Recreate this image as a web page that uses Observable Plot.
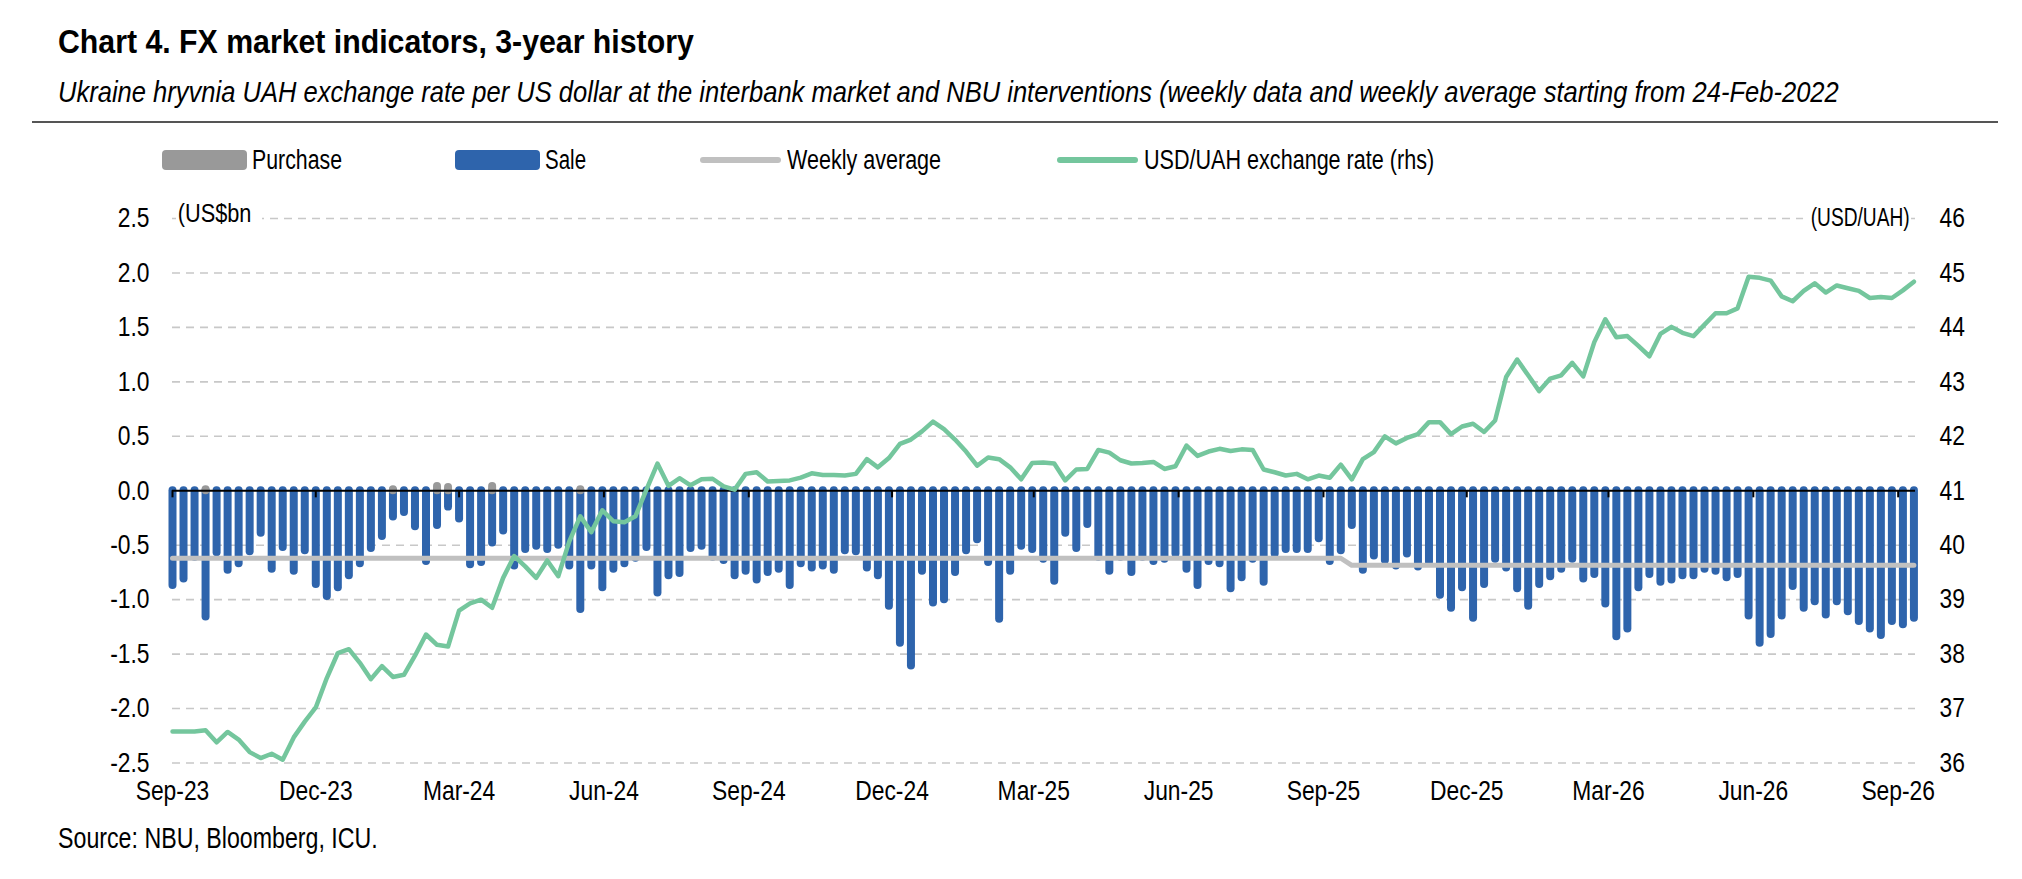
<!DOCTYPE html>
<html>
<head>
<meta charset="utf-8">
<script src="https://cdn.jsdelivr.net/npm/d3@7"></script>
<script src="https://cdn.jsdelivr.net/npm/@observablehq/plot@0.6"></script>
<style>
  html, body { margin: 0; padding: 0; background: #fff; }
  #wrap { position: relative; width: 2022px; height: 879px; overflow: hidden; background: #fff;
          font-family: "Liberation Sans", Arial, sans-serif; color: #000; }
  .abs { position: absolute; white-space: nowrap; line-height: 1; }
  #title { left: 58px; top: 26px; font-size: 32.5px; font-weight: bold; }
  #subtitle { left: 58px; top: 76.5px; font-size: 30px; font-style: italic; }
  #rule { left: 32px; top: 121px; width: 1966px; height: 2px; background: #555; }
  .legtext { font-size: 27px; top: 146.5px; }
  .sw { position: absolute; border-radius: 4px; }
  .ln { position: absolute; height: 6px; border-radius: 3px; }
  #source { left: 58px; top: 823.5px; font-size: 29px; }
  .unit { font-size: 25px; background: #fff; }
  #chart { position: absolute; left: 0; top: 180px; }
</style>
</head>
<body>
<div id="wrap">
  <div class="abs" id="title">Chart 4. FX market indicators, 3-year history</div>
  <div class="abs" id="subtitle">Ukraine hryvnia UAH exchange rate per US dollar at the interbank market and NBU interventions (weekly data and weekly average starting from 24-Feb-2022</div>
  <div class="abs" id="rule"></div>
  <div id="legend"></div>
  <div id="chart"></div>
  <div class="abs unit" id="unitL" style="left:176px; top:200.8px; padding:0 12px 0 2px;">(US$bn</div>
  <div class="abs unit" id="unitR" style="right:111px; top:204.8px; padding:0 2px 0 10px;">(USD/UAH)</div>
  <div class="abs" id="source">Source: NBU, Bloomberg, ICU.</div>
</div>
<script>
// ---------------- DATA ----------------
// weekly observations, Fridays from 1-Sep-2023 to 11-Sep-2026
const firstWeek = "2023-09-01";
const lastWeek = "2026-09-11";

// NBU sales, US$bn (negative)
const sale = [
  -0.87, -0.81, -0.61, -1.16, -0.57, -0.73, -0.67, -0.56, -0.39, -0.72,
  -0.52, -0.74, -0.55, -0.86, -0.97, -0.89, -0.78, -0.67, -0.53, -0.42,
  -0.24, -0.20, -0.33, -0.65, -0.32, -0.15, -0.26, -0.68, -0.66, -0.48,
  -0.37, -0.69, -0.54, -0.51, -0.54, -0.50, -0.69, -1.09, -0.69, -0.89,
  -0.72, -0.67, -0.62, -0.52, -0.94, -0.78, -0.76, -0.53, -0.51, -0.61,
  -0.64, -0.78, -0.74, -0.82, -0.75, -0.72, -0.87, -0.67, -0.71, -0.69,
  -0.73, -0.55, -0.56, -0.71, -0.78, -1.06, -1.40, -1.61, -0.74, -1.03,
  -1.00, -0.75, -0.55, -0.45, -0.66, -1.18, -0.74, -0.51, -0.54, -0.63,
  -0.83, -0.39, -0.53, -0.31, -0.61, -0.74, -0.61, -0.75, -0.61, -0.65,
  -0.63, -0.58, -0.72, -0.87, -0.65, -0.67, -0.90, -0.80, -0.63, -0.84,
  -0.58, -0.54, -0.54, -0.54, -0.44, -0.65, -0.55, -0.32, -0.73, -0.60,
  -0.64, -0.69, -0.58, -0.70, -0.66, -0.96, -1.08, -0.89, -1.17, -0.86,
  -0.63, -0.71, -0.90, -1.06, -0.86, -0.79, -0.72, -0.63, -0.81, -0.77,
  -1.04, -1.34, -1.27, -0.89, -0.77, -0.84, -0.82, -0.78, -0.78, -0.72,
  -0.74, -0.80, -0.77, -1.15, -1.40, -1.32, -1.15, -0.88, -1.08, -1.02,
  -1.14, -1.02, -1.11, -1.20, -1.27, -1.33, -1.20, -1.23, -1.17
];

// NBU purchases, US$bn (only a few small weeks)
const purchaseWeek = [4, 21, 25, 26, 30, 38];
const purchaseValue = [0.01, 0.01, 0.04, 0.03, 0.04, 0.01];

// weekly average of interventions, US$bn
const avgDates = ["2023-09-01", "2025-09-12", "2025-09-19", "2026-09-11"];
const avgValues = [-0.62, -0.62, -0.685, -0.685];

// USD/UAH exchange rate (rhs)
const rate = [
  36.58, 36.58, 36.58, 36.60, 36.38, 36.57, 36.43, 36.20, 36.09, 36.17,
  36.06, 36.47, 36.76, 37.02, 37.56, 38.02, 38.09, 37.84, 37.54, 37.78,
  37.58, 37.62, 37.97, 38.36, 38.17, 38.14, 38.80, 38.93, 39.00, 38.85,
  39.40, 39.80, 39.61, 39.40, 39.72, 39.43, 40.07, 40.53, 40.24, 40.64,
  40.44, 40.42, 40.53, 41.02, 41.50, 41.09, 41.23, 41.10, 41.21, 41.22,
  41.08, 41.02, 41.31, 41.34, 41.17, 41.18, 41.19, 41.24, 41.32, 41.29,
  41.29, 41.28, 41.31, 41.58, 41.43, 41.60, 41.86, 41.94, 42.09, 42.27,
  42.13, 41.94, 41.72, 41.46, 41.61, 41.58, 41.43, 41.21, 41.51, 41.52,
  41.50, 41.19, 41.39, 41.40, 41.75, 41.70, 41.56, 41.50, 41.51, 41.53,
  41.40, 41.45, 41.83, 41.64, 41.72, 41.77, 41.73, 41.76, 41.75, 41.39,
  41.34, 41.28, 41.31, 41.21, 41.28, 41.24, 41.48, 41.21, 41.58, 41.71,
  42.00, 41.87, 41.97, 42.04, 42.26, 42.26, 42.04, 42.18, 42.23, 42.08,
  42.29, 43.09, 43.41, 43.12, 42.83, 43.06, 43.12, 43.35, 43.10, 43.73,
  44.15, 43.82, 43.84, 43.66, 43.47, 43.88, 44.01, 43.90, 43.84, 44.05,
  44.26, 44.26, 44.35, 44.93, 44.91, 44.86, 44.57, 44.48, 44.67, 44.81,
  44.64, 44.77, 44.72, 44.67, 44.54, 44.56, 44.54, 44.68, 44.84
];

// axes
const xTickLabels = ["Sep-23","Dec-23","Mar-24","Jun-24","Sep-24","Dec-24","Mar-25","Jun-25","Sep-25","Dec-25","Mar-26","Jun-26","Sep-26"];
const yTicks = [-2.5, -2.0, -1.5, -1.0, -0.5, 0.0, 0.5, 1.0, 1.5, 2.0, 2.5];
const rhsBase = 41;   // rhs value at left 0
const rhsPerLhs = 2;  // rhs units per left unit

// legend
const legendItems = [
  {label: "Purchase", kind: "box", color: "#999999", x: 162, w: 90},
  {label: "Sale", kind: "box", color: "#2E64AC", x: 455, w: 41},
  {label: "Weekly average", kind: "line", color: "#C0C0C0", x: 700, w: 154},
  {label: "USD/UAH exchange rate (rhs)", kind: "line", color: "#74C69D", x: 1057, w: 290}
];

// ---------------- BUILD ----------------
const parse = d3.utcParse("%Y-%m-%d");
const dates = d3.utcFriday.range(parse(firstWeek), d3.utcDay.offset(parse(lastWeek), 1));
const weeks = dates.map((date, i) => ({date, sale: sale[i], rate: rate[i]}));
const purchases = purchaseWeek.map((w, i) => ({date: dates[w - 1], value: purchaseValue[i]}));
const avg = avgDates.map((d, i) => ({date: parse(d), value: avgValues[i]}));
const parseTick = d3.utcParse("%b-%y");
const xTicks = xTickLabels.map(parseTick);
const tickLabelMap = new Map(xTicks.map((d, i) => [+d, xTickLabels[i]]));
const gridVals = yTicks.filter(v => v !== 0);

const font = '"Liberation Sans", Arial, sans-serif';

const chart = Plot.plot({
  width: 2022,
  height: 620,
  marginLeft: 172,
  marginRight: 107,
  marginTop: 38,
  marginBottom: 37.5,
  style: {fontFamily: font, fontSize: "27.5px", color: "#000", background: "transparent", overflow: "visible"},
  x: {type: "utc", domain: [parse(firstWeek), d3.utcDay.offset(parse(lastWeek), 1)]},
  y: {domain: [-2.5, 2.5]},
  marks: [
    Plot.ruleY(gridVals, {stroke: "#C8C8C8", strokeWidth: 1.6, strokeDasharray: "8,6"}),
    Plot.ruleX(weeks, {x: "date", y1: 0, y2: "sale", stroke: "#2E64AC", strokeWidth: 8, strokeLinecap: "round"}),
    Plot.ruleX(purchases, {x: "date", y1: 0, y2: "value", stroke: "#999999", strokeWidth: 8, strokeLinecap: "round"}),
    Plot.line(avg, {x: "date", y: "value", stroke: "#C0C0C0", strokeWidth: 5, strokeLinecap: "round"}),
    Plot.ruleY([0], {stroke: "#000", strokeWidth: 2}),
    Plot.ruleX(xTicks, {x: d => d, y1: 0, y2: -0.065, stroke: "#000", strokeWidth: 2}),
    Plot.line(weeks, {x: "date", y: d => (d.rate - rhsBase) / rhsPerLhs, stroke: "#74C69D", strokeWidth: 4.5, strokeLinejoin: "round", strokeLinecap: "round"}),
    Plot.axisY(yTicks, {anchor: "left", tickSize: 0, tickPadding: 23, tickFormat: v => v.toFixed(1)}),
    Plot.axisY(yTicks, {anchor: "right", tickSize: 0, tickPadding: 24, tickFormat: v => String(rhsBase + rhsPerLhs * v)}),
    Plot.axisX(xTicks, {anchor: "bottom", tickSize: 0, tickPadding: 17.5, tickFormat: d => tickLabelMap.get(+d)})
  ]
});
document.getElementById("chart").appendChild(chart);

// condense the axis labels to look like a narrow typeface
chart.querySelectorAll("text").forEach(t => {
  const L = t.getComputedTextLength();
  if (L > 0) {
    t.setAttribute("textLength", (L * 0.83).toFixed(2));
    t.setAttribute("lengthAdjust", "spacingAndGlyphs");
  }
});

// legend
const leg = document.getElementById("legend");
const fits = [];
for (const it of legendItems) {
  const s = document.createElement("div");
  if (it.kind === "box") {
    s.className = "sw";
    Object.assign(s.style, {left: it.x + "px", top: "150px", width: "85px", height: "20px", background: it.color});
  } else {
    s.className = "ln";
    Object.assign(s.style, {left: it.x + "px", top: "157px", width: "81px", background: it.color});
  }
  leg.appendChild(s);
  const t = document.createElement("div");
  t.className = "abs legtext";
  t.style.left = (it.x + (it.kind === "box" ? 90 : 87)) + "px";
  t.textContent = it.label;
  leg.appendChild(t);
  fits.push([t, it.w, "left"]);
}

// narrow-typeface look for html texts: squeeze each to its width in the reference
function fit(el, target, origin) {
  const w = el.offsetWidth;
  if (w > 0) {
    el.style.transformOrigin = origin + " center";
    el.style.transform = `scaleX(${target / w})`;
  }
}
fit(document.getElementById("title"), 636, "left");
fit(document.getElementById("subtitle"), 1781, "left");
fit(document.getElementById("source"), 320, "left");
fit(document.getElementById("unitL"), 86, "left");
fit(document.getElementById("unitR"), 108, "right");
fits.forEach(([el, w, o]) => fit(el, w, o));
</script>
</body>
</html>
